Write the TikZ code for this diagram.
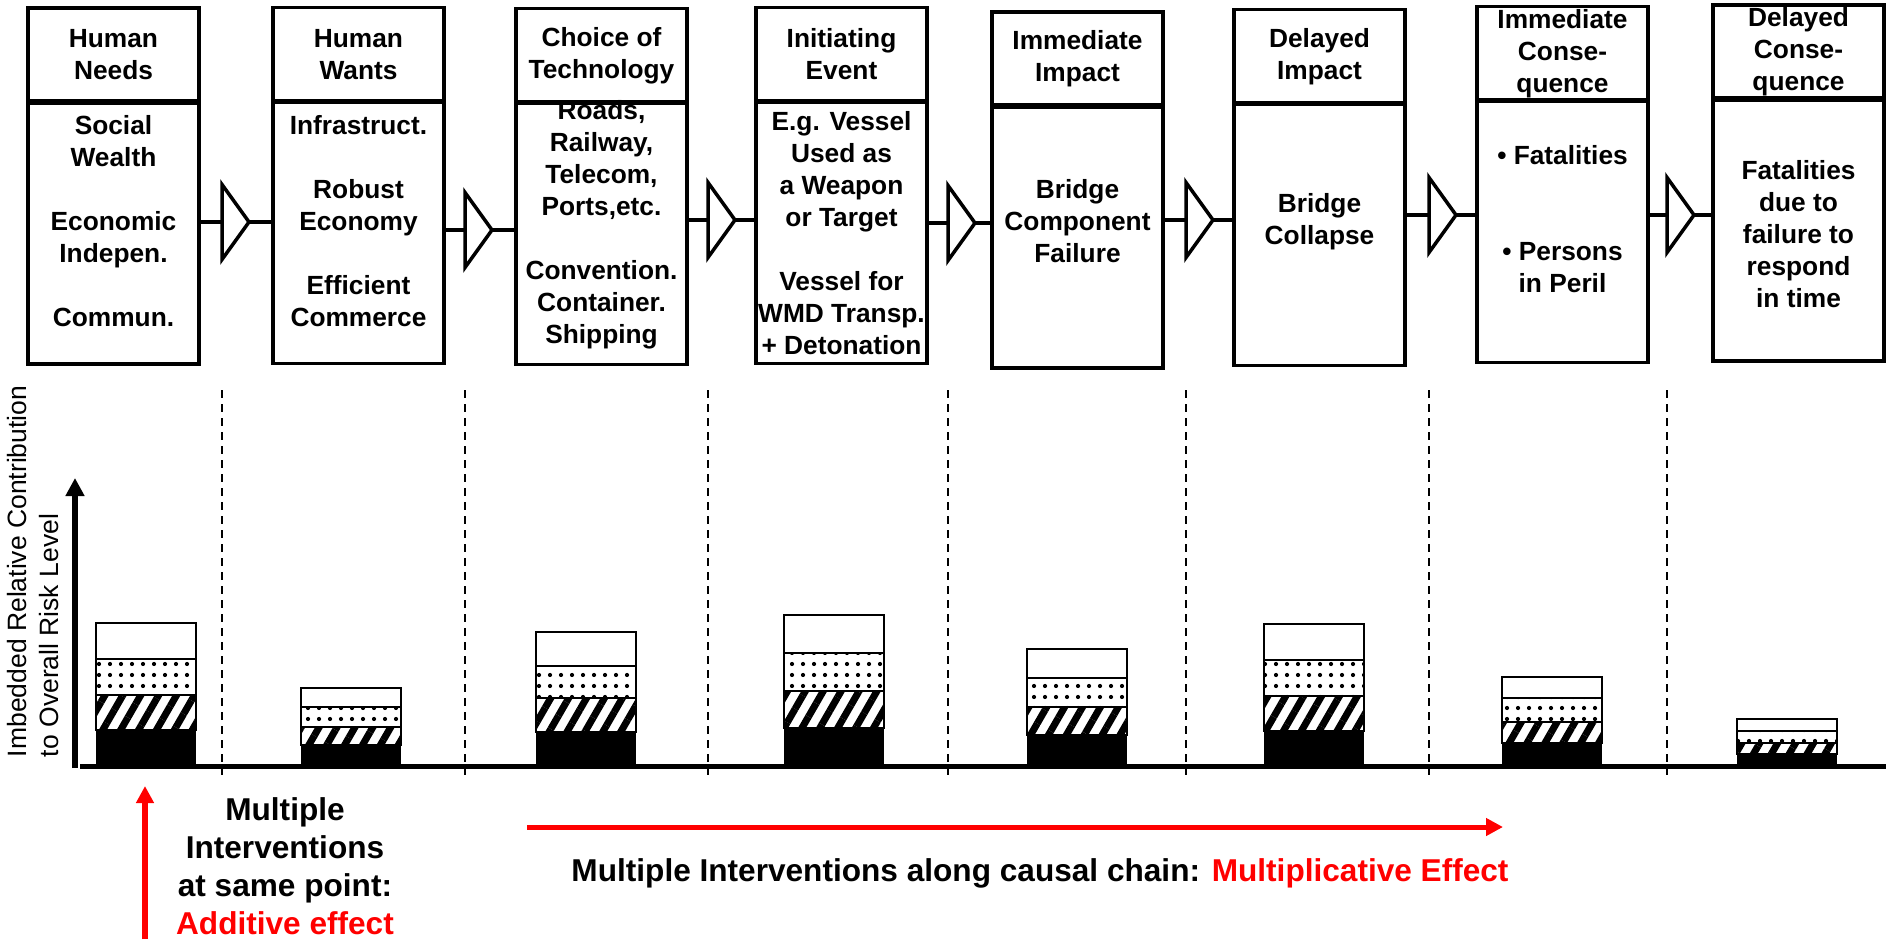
\documentclass[tikz,border=0pt]{standalone}
\usepackage{fontspec}
\setmainfont{Liberation Sans}
\usetikzlibrary{positioning,arrows.meta,patterns.meta}
\newcommand{\cellfont}{\fontsize{26.3}{32}\selectfont\bfseries}
\newcommand{\notefont}{\fontsize{31.6}{38}\selectfont\bfseries}
\begin{document}
\begin{tikzpicture}[x=1pt, y=-1pt,
    every node/.style={align=center, inner sep=0pt, outer sep=0pt},
    head/.style={draw, line width=3.5pt, minimum width=171pt, minimum height=94pt, font=\cellfont},
    body/.style={draw, line width=3.5pt, minimum width=171pt, minimum height=262pt, below=0pt of #1},
    txt/.style={font=\cellfont},
    note/.style={font=\notefont},
    link/.style={line width=3.5pt},
    divide/.style={line width=2pt, dash pattern=on 8pt off 6pt},
    seg/.style={line width=1.8pt},
    dotted seg/.style={seg, pattern={Dots[distance=11pt, radius=2.1pt]}},
    hatched seg/.style={seg, pattern={Lines[angle=60, distance=15.5pt, line width=7pt]}},
    bigarrow/.style={line width=5.5pt, -{Triangle[width=18pt, length=18pt]}},
    redarrow/.style={red, line width=5.5pt, -{Triangle[width=17pt, length=17pt]}}]
    \useasboundingbox (0,0) rectangle (1886,939);

    \node[head] (h1) at (113.5,55) {Human\\Needs};
    \node[body=h1] (b1) {};
    \node[head] (h2) at (358.5,54.5) {Human\\Wants};
    \node[body=h2] (b2) {};
    \node[head] (h3) at (601.5,55.5) {Choice of\\Technology};
    \node[body=h3] (b3) {};
    \node[head] (h4) at (841.5,54.5) {Initiating\\Event};
    \node[body=h4] (b4) {};
    \node[head] (h5) at (1077.5,59) {Immediate\\Impact};
    \node[body=h5] (b5) {};
    \node[head] (h6) at (1319.5,56.5) {Delayed\\Impact};
    \node[body=h6] (b6) {};
    \node[head] (h7) at (1562.5,53.5) {Immediate\\Conse-\\quence};
    \node[body=h7] (b7) {};
    \node[head] (h8) at (1798.5,52) {Delayed\\Conse-\\quence};
    \node[body=h8] (b8) {};

    \node[txt] (t1) at (113.5,221) {Social\\Wealth\\[32pt]Economic\\Indepen.\\[32pt]Commun.};
    \node[txt] (t2) at (358.5,221) {Infrastruct.\\[32pt]Robust\\Economy\\[32pt]Efficient\\Commerce};
    \node[txt] (t3) at (601.5,225) {Roads,\\Railway,\\Telecom,\\Ports,etc.\\[32pt]Convention.\\Container.\\Shipping};
    \node[txt] (t4) at (841.5,233.5) {E.g. Vessel\\Used as\\a Weapon\\or Target\\[32pt]Vessel for\\WMD Transp.\\+ Detonation};
    \node[txt] (t5) at (1077.5,221) {Bridge\\Component\\Failure};
    \node[txt] (t6) at (1319.5,222) {Bridge\\Collapse};
    \node[txt] (t7) at (1562.5,219) {• Fatalities\\[64pt]• Persons\\in Peril};
    \node[txt] (t8) at (1798.5,234.5) {Fatalities\\due to\\failure to\\respond\\in time};

    \foreach \i in {1,...,8}
        \draw[line width=5.5pt] (h\i.south west) -- (h\i.south east);

    \foreach \i/\bx/\cy in {1/222/222, 2/465/230, 3/708/220, 4/948/223, 5/1186/220, 6/1429/215, 7/1667/215} {
        \pgfmathtruncatemacro{\j}{\i+1}
        \coordinate (c\i) at (\bx,\cy);
        \coordinate (d\i) at (\bx+27,\cy);
        \draw[link] (b\i.east |- c\i) -- (c\i);
        \draw[link] (d\i) -- (b\j.west |- d\i);
        \draw[link] (c\i) ++(0,-37.5) -- ++(0,75) -- (d\i) -- cycle;
        \draw[divide] (\bx,390) -- (\bx,775);
    }

    \foreach \bx/\ta/\tb/\tc/\td in {96/623/659/695/730, 301/688/707/727/745, 536/632/666/698/732, 784/615/653/691/728,
                                     1027/649/678/707/735, 1264/624/660/696/731, 1502/677/698/722/743, 1737/719/731/743/754} {
        \draw[seg, fill=white] (\bx,\ta) rectangle (\bx+100,\tb);
        \draw[dotted seg] (\bx,\tb) rectangle (\bx+100,\tc);
        \draw[hatched seg] (\bx,\tc) rectangle (\bx+100,\td);
        \fill (\bx,\td) rectangle (\bx+100,764);
    }

    \coordinate (origin) at (75,768);
    \coordinate (ytop) at (75,478);
    \coordinate (xend) at (1886,766);
    \draw[line width=5pt] (origin |- xend) ++(5,0) -- (xend);
    \draw[bigarrow] (origin) -- (ytop);
    \node[rotate=90, anchor=west, align=left, font=\fontsize{26.5}{32}\selectfont] (ylab) at (33,757)
        {Imbedded Relative Contribution\\to Overall Risk Level};

    \coordinate (addfoot) at (145,939);
    \coordinate (addtip) at (145,786);
    \draw[redarrow] (addfoot) -- (addtip);
    \node[note] (additive) at (285,866) {Multiple\\Interventions\\at same point:\\\textcolor{red}{Additive effect}};

    \coordinate (chainstart) at (527,827);
    \coordinate (chainend) at (1503,827);
    \draw[redarrow, line width=5pt] (chainstart) -- (chainend);
    \node[note] (chain) at (1040,873) {Multiple Interventions along causal chain: \textcolor{red}{Multiplicative Effect}};
\end{tikzpicture}
\end{document}
